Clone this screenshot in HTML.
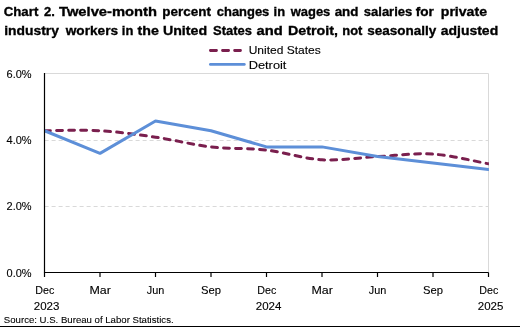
<!DOCTYPE html>
<html><head><meta charset="utf-8"><style>
html,body{margin:0;padding:0;background:#fff;width:520px;height:327px;overflow:hidden;font-family:"Liberation Sans",sans-serif;}
svg{display:block} .wrap{will-change:transform;width:520px;height:327px}
</style></head><body>
<div class="wrap"><svg width="520" height="327" viewBox="0 0 520 327">
<line x1="44.6" y1="140.5" x2="488" y2="140.5" stroke="#d9d9d9" stroke-width="1" stroke-dasharray="4 3"/>
<line x1="44.6" y1="206.5" x2="488" y2="206.5" stroke="#d9d9d9" stroke-width="1" stroke-dasharray="4 3"/>
<path d="M44.5,73.5 H488.5 V272.5" fill="none" stroke="#d9d9d9" stroke-width="1"/>
<line x1="210.4" y1="50.5" x2="240.5" y2="50.5" stroke="#7a1f4e" stroke-width="2.8" stroke-linecap="round" stroke-dasharray="6.1 6"/>
<line x1="210.4" y1="64.4" x2="244.3" y2="64.4" stroke="#5d8fd8" stroke-width="2.8" stroke-linecap="round"/>
<defs><clipPath id="pc"><rect x="44.5" y="60" width="444.4" height="212.5"/></clipPath></defs><g clip-path="url(#pc)">
<path d="M44.50,130.74 C53.75,130.74 81.50,129.66 100.00,130.74 C118.50,131.81 137.00,134.50 155.50,137.19 C174.00,139.88 192.50,144.72 211.00,146.88 C229.50,149.03 248.00,147.95 266.50,150.10 C285.00,152.26 303.50,158.71 322.00,159.79 C340.50,160.86 359.00,157.50 377.50,156.56 C396.00,155.62 414.50,152.93 433.00,154.14 C451.50,155.35 479.25,162.21 488.50,163.82" fill="none" stroke="#7a1f4e" stroke-width="3" stroke-linecap="round" stroke-dasharray="5.8 6.214" stroke-dashoffset="-0.18"/>
<path d="M44.50,130.74 L100.00,153.33 L155.50,121.05 L211.00,130.74 L266.50,146.88 L322.00,146.88 L377.50,156.56 L433.00,163.02 L488.50,169.47" fill="none" stroke="#5d8fd8" stroke-width="3" stroke-linejoin="round" stroke-linecap="round"/>
</g>
<path d="M44.5,73 V272.5 H488.5" fill="none" stroke="#000" stroke-width="1.2"/>
<line x1="44.50" y1="272.5" x2="44.50" y2="277" stroke="#000" stroke-width="1.2"/>
<line x1="100.00" y1="272.5" x2="100.00" y2="277" stroke="#000" stroke-width="1.2"/>
<line x1="155.50" y1="272.5" x2="155.50" y2="277" stroke="#000" stroke-width="1.2"/>
<line x1="211.00" y1="272.5" x2="211.00" y2="277" stroke="#000" stroke-width="1.2"/>
<line x1="266.50" y1="272.5" x2="266.50" y2="277" stroke="#000" stroke-width="1.2"/>
<line x1="322.00" y1="272.5" x2="322.00" y2="277" stroke="#000" stroke-width="1.2"/>
<line x1="377.50" y1="272.5" x2="377.50" y2="277" stroke="#000" stroke-width="1.2"/>
<line x1="433.00" y1="272.5" x2="433.00" y2="277" stroke="#000" stroke-width="1.2"/>
<line x1="488.50" y1="272.5" x2="488.50" y2="277" stroke="#000" stroke-width="1.2"/>
<g font-family='"Liberation Sans", sans-serif' fill="#000">
<text x="3.68" y="15.60" font-size="13.5" font-weight="bold" textLength="34.65" lengthAdjust="spacingAndGlyphs" stroke="#000" stroke-width="0.35">Chart</text>
<text x="44.11" y="15.60" font-size="13.5" font-weight="bold" textLength="10.79" lengthAdjust="spacingAndGlyphs" stroke="#000" stroke-width="0.35">2.</text>
<text x="59.01" y="15.60" font-size="13.5" font-weight="bold" textLength="97.96" lengthAdjust="spacingAndGlyphs" stroke="#000" stroke-width="0.35">Twelve-month</text>
<text x="162.37" y="15.60" font-size="13.5" font-weight="bold" textLength="48.55" lengthAdjust="spacingAndGlyphs" stroke="#000" stroke-width="0.35">percent</text>
<text x="216.79" y="15.60" font-size="13.5" font-weight="bold" textLength="52.51" lengthAdjust="spacingAndGlyphs" stroke="#000" stroke-width="0.35">changes</text>
<text x="273.57" y="15.60" font-size="13.5" font-weight="bold" textLength="11.50" lengthAdjust="spacingAndGlyphs" stroke="#000" stroke-width="0.35">in</text>
<text x="290.74" y="15.60" font-size="13.5" font-weight="bold" textLength="39.57" lengthAdjust="spacingAndGlyphs" stroke="#000" stroke-width="0.35">wages</text>
<text x="334.68" y="15.60" font-size="13.5" font-weight="bold" textLength="23.79" lengthAdjust="spacingAndGlyphs" stroke="#000" stroke-width="0.35">and</text>
<text x="363.78" y="15.60" font-size="13.5" font-weight="bold" textLength="48.54" lengthAdjust="spacingAndGlyphs" stroke="#000" stroke-width="0.35">salaries</text>
<text x="415.68" y="15.60" font-size="13.5" font-weight="bold" textLength="18.10" lengthAdjust="spacingAndGlyphs" stroke="#000" stroke-width="0.35">for</text>
<text x="440.77" y="15.60" font-size="13.5" font-weight="bold" textLength="46.24" lengthAdjust="spacingAndGlyphs" stroke="#000" stroke-width="0.35">private</text>
<text x="4.28" y="35.40" font-size="13.5" font-weight="bold" textLength="54.65" lengthAdjust="spacingAndGlyphs" stroke="#000" stroke-width="0.35">industry</text>
<text x="65.78" y="35.40" font-size="13.5" font-weight="bold" textLength="52.25" lengthAdjust="spacingAndGlyphs" stroke="#000" stroke-width="0.35">workers</text>
<text x="121.87" y="35.40" font-size="13.5" font-weight="bold" textLength="11.50" lengthAdjust="spacingAndGlyphs" stroke="#000" stroke-width="0.35">in</text>
<text x="137.48" y="35.40" font-size="13.5" font-weight="bold" textLength="21.33" lengthAdjust="spacingAndGlyphs" stroke="#000" stroke-width="0.35">the</text>
<text x="162.98" y="35.40" font-size="13.5" font-weight="bold" textLength="44.11" lengthAdjust="spacingAndGlyphs" stroke="#000" stroke-width="0.35">United</text>
<text x="213.12" y="35.40" font-size="13.5" font-weight="bold" textLength="38.85" lengthAdjust="spacingAndGlyphs" stroke="#000" stroke-width="0.35">States</text>
<text x="256.54" y="35.40" font-size="13.5" font-weight="bold" textLength="26.19" lengthAdjust="spacingAndGlyphs" stroke="#000" stroke-width="0.35">and</text>
<text x="288.07" y="35.40" font-size="13.5" font-weight="bold" textLength="49.94" lengthAdjust="spacingAndGlyphs" stroke="#000" stroke-width="0.35">Detroit,</text>
<text x="342.25" y="35.40" font-size="13.5" font-weight="bold" textLength="20.12" lengthAdjust="spacingAndGlyphs" stroke="#000" stroke-width="0.35">not</text>
<text x="367.28" y="35.40" font-size="13.5" font-weight="bold" textLength="69.06" lengthAdjust="spacingAndGlyphs" stroke="#000" stroke-width="0.35">seasonally</text>
<text x="440.78" y="35.40" font-size="13.5" font-weight="bold" textLength="57.40" lengthAdjust="spacingAndGlyphs" stroke="#000" stroke-width="0.35">adjusted</text>
<text x="248.71" y="53.80" font-size="11.0" textLength="71.98" lengthAdjust="spacingAndGlyphs" stroke="#000" stroke-width="0.12">United States</text>
<text x="248.71" y="68.50" font-size="11.0" textLength="37.70" lengthAdjust="spacingAndGlyphs" stroke="#000" stroke-width="0.12">Detroit</text>
<text x="6.56" y="78.00" font-size="11.0" textLength="25.06" lengthAdjust="spacingAndGlyphs" stroke="#000" stroke-width="0.12">6.0%</text>
<text x="6.56" y="144.20" font-size="11.0" textLength="25.06" lengthAdjust="spacingAndGlyphs" stroke="#000" stroke-width="0.12">4.0%</text>
<text x="6.56" y="209.90" font-size="11.0" textLength="25.06" lengthAdjust="spacingAndGlyphs" stroke="#000" stroke-width="0.12">2.0%</text>
<text x="6.56" y="277.00" font-size="11.0" textLength="25.06" lengthAdjust="spacingAndGlyphs" stroke="#000" stroke-width="0.12">0.0%</text>
<text x="35.26" y="293.80" font-size="11.0" textLength="18.99" lengthAdjust="spacingAndGlyphs" stroke="#000" stroke-width="0.12">Dec</text>
<text x="89.51" y="293.80" font-size="11.0" textLength="21.40" lengthAdjust="spacingAndGlyphs" stroke="#000" stroke-width="0.12">Mar</text>
<text x="146.81" y="293.80" font-size="11.0" textLength="17.50" lengthAdjust="spacingAndGlyphs" stroke="#000" stroke-width="0.12">Jun</text>
<text x="201.06" y="293.80" font-size="11.0" textLength="20.00" lengthAdjust="spacingAndGlyphs" stroke="#000" stroke-width="0.12">Sep</text>
<text x="257.26" y="293.80" font-size="11.0" textLength="18.99" lengthAdjust="spacingAndGlyphs" stroke="#000" stroke-width="0.12">Dec</text>
<text x="311.51" y="293.80" font-size="11.0" textLength="21.40" lengthAdjust="spacingAndGlyphs" stroke="#000" stroke-width="0.12">Mar</text>
<text x="368.81" y="293.80" font-size="11.0" textLength="17.50" lengthAdjust="spacingAndGlyphs" stroke="#000" stroke-width="0.12">Jun</text>
<text x="423.06" y="293.80" font-size="11.0" textLength="20.00" lengthAdjust="spacingAndGlyphs" stroke="#000" stroke-width="0.12">Sep</text>
<text x="479.26" y="293.80" font-size="11.0" textLength="18.99" lengthAdjust="spacingAndGlyphs" stroke="#000" stroke-width="0.12">Dec</text>
<text x="33.76" y="309.80" font-size="11.0" textLength="25.60" lengthAdjust="spacingAndGlyphs" stroke="#000" stroke-width="0.12">2023</text>
<text x="255.76" y="309.80" font-size="11.0" textLength="25.60" lengthAdjust="spacingAndGlyphs" stroke="#000" stroke-width="0.12">2024</text>
<text x="477.76" y="309.80" font-size="11.0" textLength="25.60" lengthAdjust="spacingAndGlyphs" stroke="#000" stroke-width="0.12">2025</text>
<text x="3.85" y="323.00" font-size="9.6" textLength="169.77" lengthAdjust="spacingAndGlyphs" stroke="#000" stroke-width="0.1">Source: U.S. Bureau of Labor Statistics.</text>
</g>
<rect x="0" y="326" width="520" height="1" fill="#000"/>
</svg></div>
</body></html>
